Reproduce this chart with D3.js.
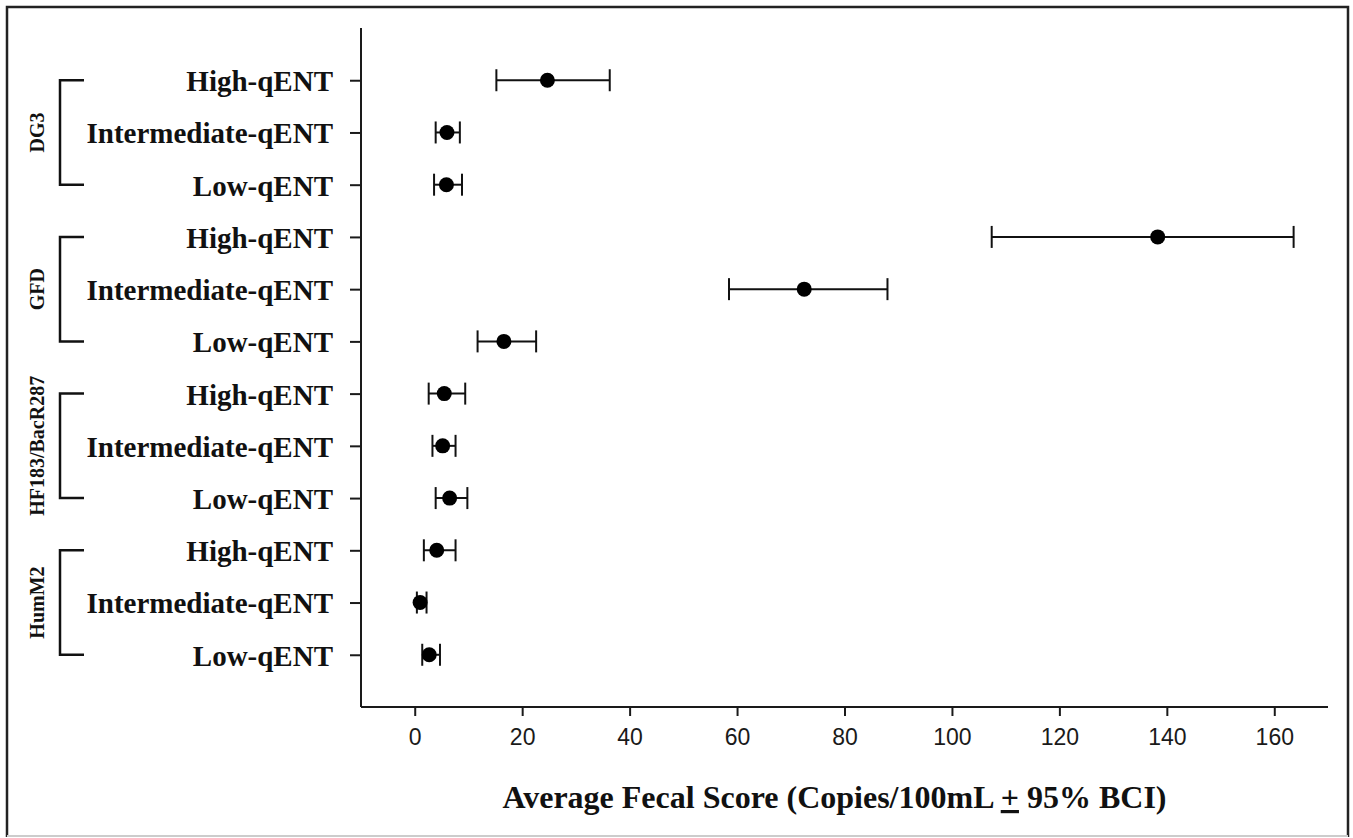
<html>
<head>
	<meta http-equiv="Content-Type" content="text/html; charset=utf-8" />
	<script src="https://cdn.jsdelivr.net/npm/d3@7/dist/d3.min.js" charset="utf-8"></script>
	<style type="text/css">
	body {
	  margin: 0;
	  background-color: white;
	}
	.axis path, .axis line {
	    stroke: #1a1a1a;
	    stroke-width: 2;
	}
	.xaxis text {
	    font-family: "Liberation Sans", Arial, sans-serif;
	    font-size: 23px;
	    fill: #1a1a1a;
	}
	.yaxis text {
	    font-family: "Liberation Serif", "Times New Roman", serif;
	    font-weight: bold;
	    font-size: 29px;
	    fill: #111;
	}
	</style>
</head>
<body>
	<svg width="1353" height="838" version="1.1" xmlns="http://www.w3.org/2000/svg"></svg>

	<script type="text/javascript">
		// 数据
		var v_Groups = ["DG3", "GFD", "HF183/BacR287", "HumM2"];
		var v_Levels = ["High-qENT", "Intermediate-qENT", "Low-qENT"];
		var v_Means  = [24.7, 6.0, 5.9,   138.3, 72.5, 16.6,   5.5, 5.2, 6.5,   4.1, 1.0, 2.7];
		var v_Lower  = [15.2, 3.9, 3.6,   107.4, 58.5, 11.7,   2.6, 3.3, 3.9,   1.7, 0.4, 1.4];
		var v_Upper  = [36.3, 8.4, 8.8,   163.6, 88.0, 22.6,   9.4, 7.6, 9.8,   7.6, 2.2, 4.7];
		var v_XTicks = [0, 20, 40, 60, 80, 100, 120, 140, 160];
		var v_XLabel = "Average Fecal Score (Copies/100mL ";

		var v_SVG  = d3.select("svg");
		var v_Plot = {left:361, right:1328, top:28, bottom:707};

		// 行
		var v_Rows = [];
		v_Groups.forEach(function(g, gi)
		{
			v_Levels.forEach(function(l, li)
			{
				var i = gi * v_Levels.length + li;
				v_Rows.push({key:g + "|" + l, group:g, level:l,
				             mean:v_Means[i], lo:v_Lower[i], hi:v_Upper[i]});
			});
		});

		var v_xScale = d3.scaleLinear()
		                 .domain([-10, 170])
		                 .range([v_Plot.left, v_Plot.right]);
		var v_yScale = d3.scalePoint()
		                 .domain(v_Rows.map(function(d){ return d.key; }))
		                 .range([v_Plot.top, v_Plot.bottom])
		                 .padding(1);

		// 外框
		v_SVG.append("path")
		     .attr("d", "M7,837V7H1348V837")
		     .attr("fill", "none")
		     .attr("stroke", "#222")
		     .attr("stroke-width", 2.5);
		v_SVG.append("line")
		     .attr("x1", 7).attr("x2", 1348).attr("y1", 836).attr("y2", 836)
		     .attr("stroke", "#ccc").attr("stroke-width", 2);

		// x轴
		var v_GX = v_SVG.append("g")
		     .attr("class", "axis xaxis")
		     .attr("transform", "translate(0," + v_Plot.bottom + ")")
		     .call(d3.axisBottom(v_xScale).tickValues(v_XTicks).tickSize(9).tickPadding(13).tickSizeOuter(0));
		v_GX.select(".domain").attr("d", "M" + v_Plot.left + ",0H" + v_Plot.right);

		// y轴
		var v_GY = v_SVG.append("g")
		     .attr("class", "axis yaxis")
		     .attr("transform", "translate(" + v_Plot.left + ",0)")
		     .call(d3.axisLeft(v_yScale).tickSize(11).tickPadding(17).tickSizeOuter(0)
		             .tickFormat(function(k){ return k.split("|")[1]; }));
		v_GY.select(".domain").attr("d", "M0," + v_Plot.top + "V" + v_Plot.bottom);
		v_GY.selectAll(".tick text").attr("dy", "0.36em");

		// 误差线
		var v_Bars = v_SVG.append("g").selectAll("g").data(v_Rows).enter().append("g")
		     .attr("stroke", "#111").attr("stroke-width", 2);
		v_Bars.append("line")
		     .attr("x1", function(d){ return v_xScale(d.lo); })
		     .attr("x2", function(d){ return v_xScale(d.hi); })
		     .attr("y1", function(d){ return v_yScale(d.key); })
		     .attr("y2", function(d){ return v_yScale(d.key); });
		v_Bars.append("line")
		     .attr("x1", function(d){ return v_xScale(d.lo); })
		     .attr("x2", function(d){ return v_xScale(d.lo); })
		     .attr("y1", function(d){ return v_yScale(d.key) - 11; })
		     .attr("y2", function(d){ return v_yScale(d.key) + 11; });
		v_Bars.append("line")
		     .attr("x1", function(d){ return v_xScale(d.hi); })
		     .attr("x2", function(d){ return v_xScale(d.hi); })
		     .attr("y1", function(d){ return v_yScale(d.key) - 11; })
		     .attr("y2", function(d){ return v_yScale(d.key) + 11; });
		v_Bars.append("circle")
		     .attr("cx", function(d){ return v_xScale(d.mean); })
		     .attr("cy", function(d){ return v_yScale(d.key); })
		     .attr("r", 7.5)
		     .attr("fill", "#000")
		     .attr("stroke", "none");

		// 分组括号和标签
		v_Groups.forEach(function(g)
		{
			var v_Keys = v_Levels.map(function(l){ return g + "|" + l; });
			var y0 = v_yScale(v_Keys[0]);
			var y1 = v_yScale(v_Keys[v_Keys.length - 1]);
			v_SVG.append("path")
			     .attr("d", "M84," + y0 + "H60V" + y1 + "H84")
			     .attr("fill", "none")
			     .attr("stroke", "#111")
			     .attr("stroke-width", 2.5);
			v_SVG.append("text")
			     .attr("transform", "translate(37," + ((y0 + y1) / 2) + ") rotate(-90)")
			     .attr("text-anchor", "middle")
			     .attr("dy", "0.35em")
			     .attr("font-family", "'Liberation Serif', 'Times New Roman', serif")
			     .attr("font-weight", "bold")
			     .attr("font-size", "20px")
			     .attr("fill", "#111")
			     .text(g);
		});

		// x轴标题
		var v_Title = v_SVG.append("text")
		     .attr("x", (v_Plot.left + v_Plot.right) / 2 - 10)
		     .attr("y", 808)
		     .attr("text-anchor", "middle")
		     .attr("font-family", "'Liberation Serif', 'Times New Roman', serif")
		     .attr("font-weight", "bold")
		     .attr("font-size", "32px")
		     .attr("fill", "#111");
		v_Title.append("tspan").text(v_XLabel);
		v_Title.append("tspan").attr("text-decoration", "underline").text("+");
		v_Title.append("tspan").text(" 95% BCI)");
	</script>
</body>
</html>
